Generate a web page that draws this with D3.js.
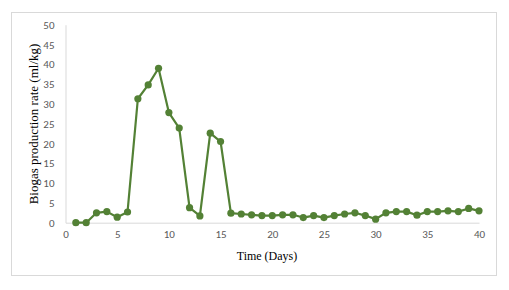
<!DOCTYPE html>
<html>
<head>
<meta charset="utf-8">
<script src="https://cdn.jsdelivr.net/npm/d3@7"></script>
<style>
  body { margin: 0; background: #fff; }
  .tick text { font-family: Carlito, "Liberation Sans", Arial, sans-serif; font-size: 11px; fill: #595959; }
  .title { font-family: "Liberation Serif", "Times New Roman", serif; font-size: 12px; fill: #000; }
</style>
</head>
<body>
<svg id="chart" width="509" height="290"></svg>
<script>
// days 1..40 and the rate
const days = d3.range(1, 41);
const rate = [0, 0, 2.5, 2.8, 1.4, 2.7, 31.3, 34.8, 39.0, 27.8,
  23.9, 3.8, 1.7, 22.6, 20.5, 2.4, 2.2, 2.0, 1.8, 1.8,
  2.0, 2.0, 1.3, 1.8, 1.3, 1.8, 2.2, 2.5, 1.8, 0.9,
  2.5, 2.8, 2.8, 1.9, 2.8, 2.8, 3.0, 2.8, 3.6, 3.0];
const xTicks = [0, 5, 10, 15, 20, 25, 30, 35, 40];
const yTicks = [0, 5, 10, 15, 20, 25, 30, 35, 40, 45, 50];

const svg = d3.select("#chart");

// chart frame
svg.append("rect")
  .attr("x", 11.5).attr("y", 12.5)
  .attr("width", 485).attr("height", 263)
  .attr("fill", "#fff").attr("stroke", "#d9d9d9");

const x = d3.scaleLinear().domain([0, 40]).range([65.5, 479]);
const y = d3.scaleLinear().domain([0, 50]).range([222.7, 24.7]);

const xAxis = svg.append("g")
  .attr("transform", "translate(0," + y(0) + ")")
  .call(d3.axisBottom(x).tickValues(xTicks).tickSize(0).tickPadding(8));
xAxis.select(".domain").attr("stroke", "#d9d9d9");

const yAxis = svg.append("g")
  .attr("transform", "translate(" + x(0) + ",0)")
  .call(d3.axisLeft(y).tickValues(yTicks).tickSize(0).tickPadding(11));
yAxis.select(".domain").attr("stroke", "#d9d9d9");

const line = d3.line()
  .x((d, i) => x(days[i]))
  .y((d) => y(d));

svg.append("path")
  .datum(rate)
  .attr("d", line)
  .attr("fill", "none")
  .attr("stroke", "#538135")
  .attr("stroke-width", 2.2)
  .attr("stroke-linejoin", "round");

svg.selectAll("circle.pt")
  .data(rate)
  .enter()
  .append("circle")
  .attr("class", "pt")
  .attr("cx", (d, i) => x(days[i]))
  .attr("cy", (d) => y(d))
  .attr("r", 3.6)
  .attr("fill", "#538135");

svg.append("text")
  .attr("class", "title")
  .attr("x", 267).attr("y", 260)
  .attr("text-anchor", "middle")
  .text("Time  (Days)");

svg.append("text")
  .attr("class", "title")
  .style("font-size", "13px")
  .attr("transform", "translate(38,124) rotate(-90)")
  .attr("text-anchor", "middle")
  .text("Biogas production rate  (ml/kg)");
</script>
</body>
</html>
